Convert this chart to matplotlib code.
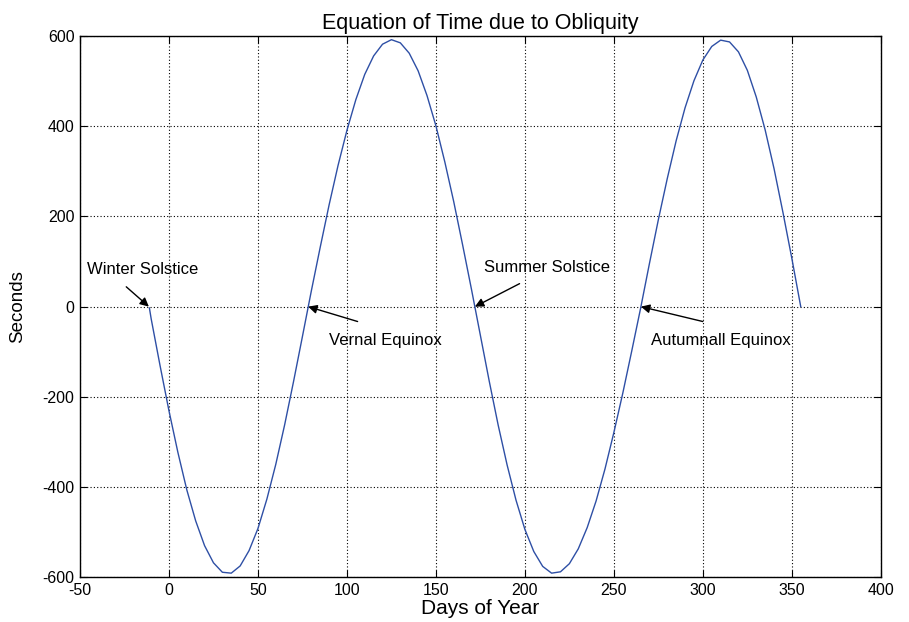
import matplotlib
matplotlib.use('Agg')
import matplotlib.pyplot as plt

# Dias del año y ecuacion de tiempo (segundos)
days = [-11, -10, -5, 0, 5, 10, 15, 20, 25, 30, 35, 40, 45, 50, 55, 60, 65, 70, 75,
        80, 85, 90, 95, 100, 105, 110, 115, 120, 125, 130, 135, 140, 145, 150, 155,
        160, 165, 170, 175, 180, 185, 190, 195, 200, 205, 210, 215, 220, 225, 230,
        235, 240, 245, 250, 255, 260, 265, 270, 275, 280, 285, 290, 295, 300, 305,
        310, 315, 320, 325, 330, 335, 340, 345, 350, 355]
seconds = [-3, -27, -131, -231, -323, -406, -475, -530, -568, -589, -591, -575, -541,
           -492, -427, -350, -262, -166, -66,
           35, 132, 226, 313, 391, 459, 515, 556, 582, 592, 585, 562, 523, 468, 401, 321,
           233, 137, 38, -64, -166, -263, -351, -429, -494, -543, -576, -591, -588, -570,
           -537, -490, -431, -360, -279, -192, -99, -4, 96, 193, 284, 368, 441, 501, 547,
           577, 591, 587, 565, 524, 465, 392, 306, 209, 107, 0]

# Anotaciones: texto, punto (dia, s), posicion del texto
labels = ['Winter Solstice', 'Vernal Equinox', 'Summer Solstice', 'Autumnall Equinox']
points = [(-11.3, 0), (78.2, 0), (171.9, 0), (265.2, 0)]
text_pos = [(-46, 82), (90, -75), (177, 87), (271, -75)]
tail_pos = [(-24, 44), (106, -33), (197, 51), (300, -33)]

plt.rcParams['font.family'] = ['Liberation Sans', 'DejaVu Sans']
plt.rcParams['axes.unicode_minus'] = False

fig = plt.figure(figsize=(9.09, 6.22), dpi=100)
ax = fig.add_axes([0.088, 0.072, 0.881, 0.870])

ax.plot(days, seconds, color='#2e4fa5', linewidth=1.0)

for lab, p, t, tail in zip(labels, points, text_pos, tail_pos):
    ax.text(t[0], t[1], lab, fontsize=12, ha='left', va='center')
    ax.annotate('', xy=p, xytext=tail,
                arrowprops=dict(arrowstyle='-|>', color='black', lw=1.0,
                                mutation_scale=13, shrinkA=0, shrinkB=0))

ax.set_xlim(-50, 400)
ax.set_ylim(-600, 600)
ax.set_xticks(range(-50, 401, 50))
ax.set_yticks(range(-600, 601, 200))
ax.grid(True, color='black', linestyle=(0, (1, 2)), linewidth=0.8)
ax.tick_params(direction='in', top=True, right=True, labelsize=11.5, length=5, pad=4)
for s in ax.spines.values():
    s.set_linewidth(1.0)

ax.set_title('Equation of Time due to Obliquity', fontsize=15.5, pad=5)
ax.set_xlabel('Days of Year', fontsize=15, labelpad=1)
ax.set_ylabel('Seconds', fontsize=13.5, labelpad=12)

fig.savefig('out.png', dpi=100)
